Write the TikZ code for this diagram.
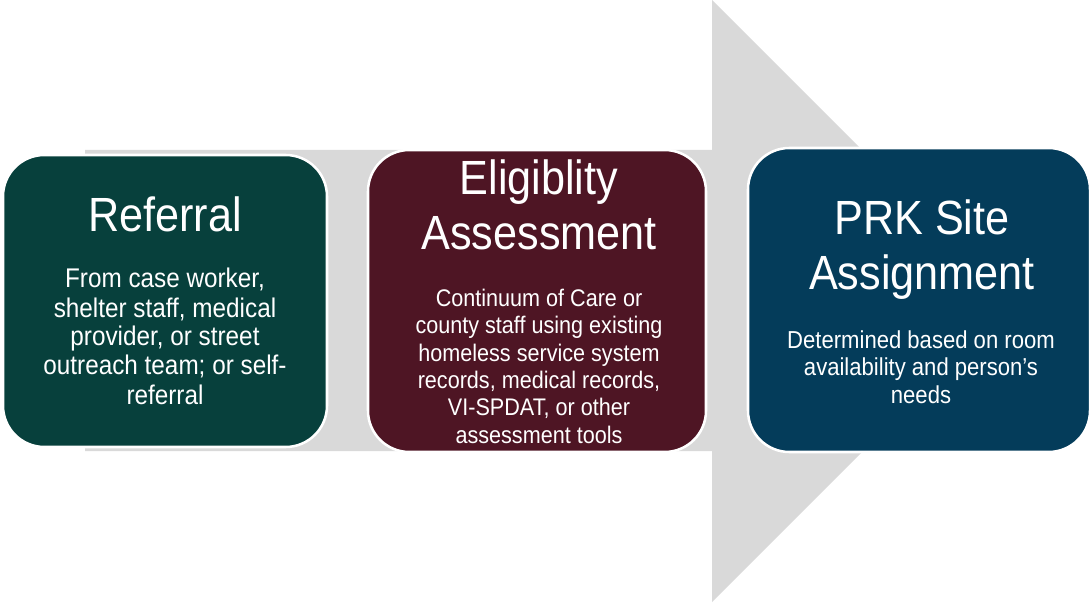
\documentclass[tikz,border=0pt]{standalone}
\usepackage{fontspec}
\setmainfont{Liberation Sans}[FakeStretch=0.9]
\definecolor{refgreen}{HTML}{07403C}
\definecolor{eligred}{HTML}{4E1524}
\definecolor{prkblue}{HTML}{043C5A}
\definecolor{flowgrey}{HTML}{D9D9D9}

\begin{document}
\begin{tikzpicture}[x=0.75pt, y=-0.75pt,
    stage/.style={draw=white, line width=1.9pt, rounded corners=31pt, inner sep=0pt},
    heading/.style={white, anchor=base, align=center, font=\fontsize{36pt}{41.25pt}\selectfont},
    blurb/.style={white, anchor=base, align=center}]
  \useasboundingbox (0,0) rectangle (1091,605);
  % grey arrow behind the three stages
  \fill[flowgrey] (85,150) -- (712,150) -- (712,0) -- (1013,301) -- (712,602) -- (712,451) -- (85,451) -- cycle;
  % stage boxes
  \node[stage, fill=refgreen, minimum width=243pt, minimum height=219pt] (referral) at (165,301) {};
  \node[stage, fill=eligred, minimum width=253.5pt, minimum height=226.5pt] (eligibility) at (537,301) {};
  \node[stage, fill=prkblue, minimum width=256.5pt, minimum height=228pt] (assignment) at (919,300) {};
  % Referral (base = last line)
  \node[heading] (referralhead) at (165,232) {Referral};
  \node[blurb, font=\fontsize{20.25pt}{21.75pt}\selectfont] (referraltext) at (165,404)
    {From case worker,\\shelter staff, medical\\provider, or street\\outreach team; or self-\\referral};
  % Eligiblity Assessment
  \node[heading] (eligibilityhead) at (539,250) {Eligiblity\\Assessment};
  \node[blurb, font=\fontsize{18pt}{20.5pt}\selectfont] (eligibilitytext) at (539,443)
    {Continuum of Care or\\county staff using existing\\homeless service system\\records, medical records,\\VI-SPDAT, or other\\assessment tools};
  % PRK Site Assignment
  \node[heading] (assignmenthead) at (922,290) {PRK Site\\Assignment};
  \node[blurb, font=\fontsize{18.4pt}{20.25pt}\selectfont] (assignmenttext) at (921,403)
    {Determined based on room\\availability and person’s\\needs};
\end{tikzpicture}
\end{document}
